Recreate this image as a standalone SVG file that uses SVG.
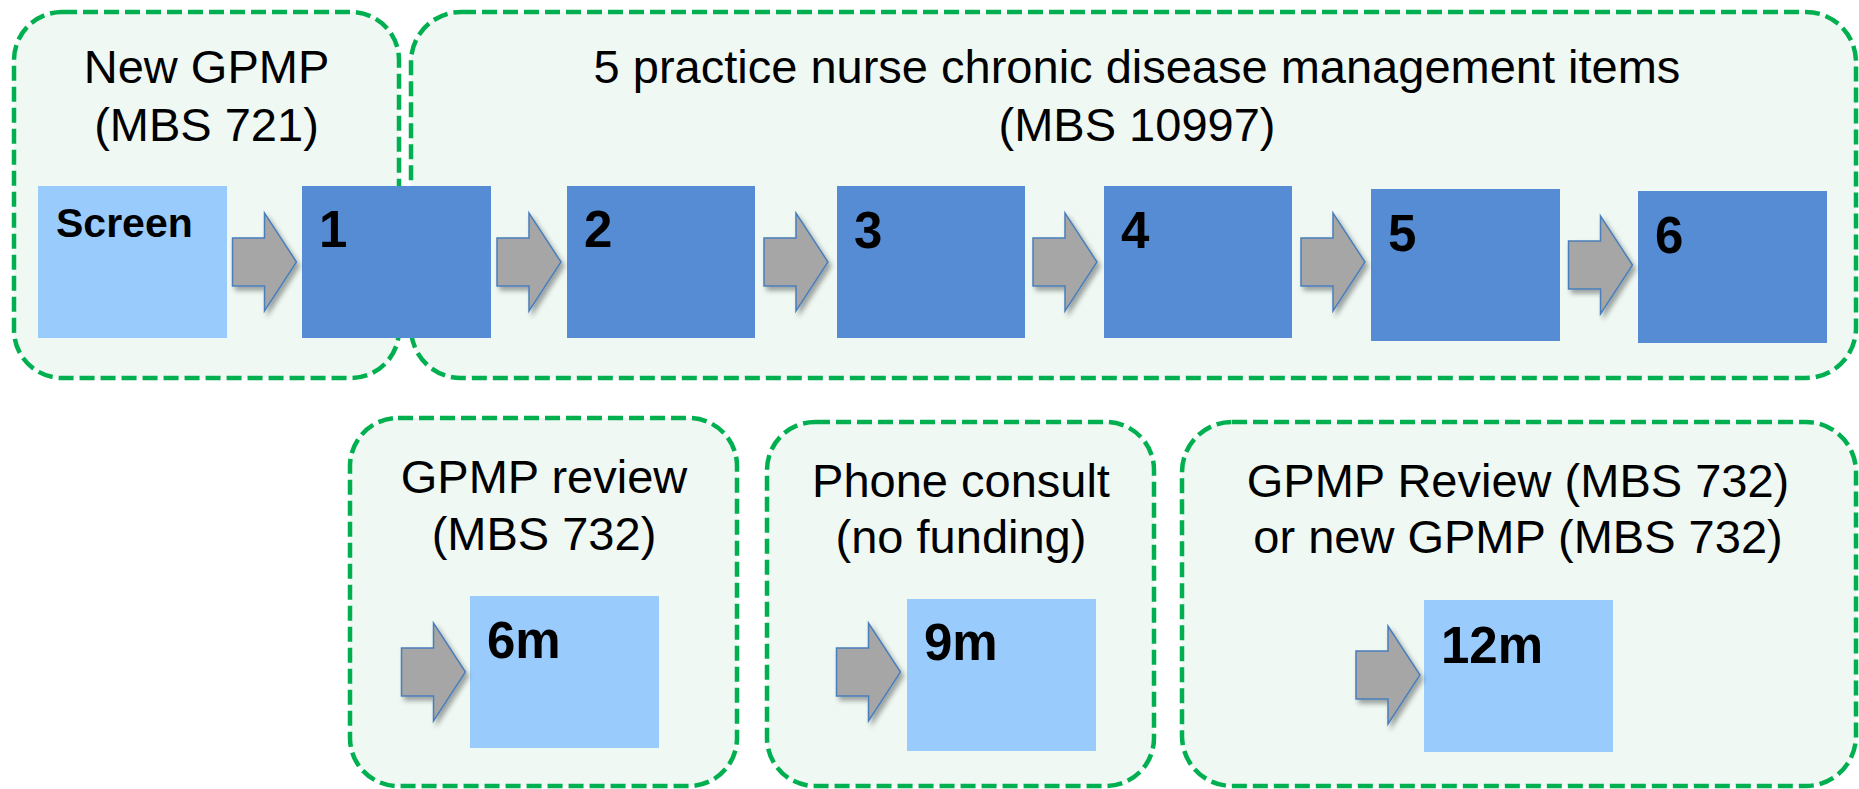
<svg xmlns="http://www.w3.org/2000/svg" width="1859" height="789" viewBox="0 0 1859 789">
<style>
.grp{fill:#EFF8F3;stroke:#00B050;stroke-width:4.5;stroke-dasharray:15 6}
.title{font-family:"Liberation Sans",Arial,sans-serif;font-size:47px;fill:#000;text-anchor:middle}
.num{font-family:"Liberation Sans",Arial,sans-serif;font-size:51px;font-weight:bold;fill:#000}
.dark{fill:#558CD4}
.light{fill:#99CBFC}
.arr{fill:#A6A6A6;stroke:#4A7EBB;stroke-width:1.5;filter:url(#sh)}
</style>
<defs>
<filter id="sh" x="-30%" y="-30%" width="160%" height="160%">
<feDropShadow dx="3" dy="4" stdDeviation="2.5" flood-color="#000" flood-opacity="0.35"/>
</filter>
<path id="ar" d="M0,-24 H32 V-49 L64,0 L32,49 V24 H0 Z"/>
</defs>
<rect width="1859" height="789" fill="#fff"/>

<g id="grp-new-gpmp">
<rect class="grp" x="14" y="12" width="385" height="366" rx="48"/>
<text class="title" x="206.5" y="83">New GPMP</text>
<text class="title" x="206.5" y="141">(MBS 721)</text>
</g>
<g id="grp-nurse">
<rect class="grp" x="411" y="12" width="1445" height="366" rx="50"/>
<text class="title" x="1137" y="83">5 practice nurse chronic disease management items</text>
<text class="title" x="1137" y="141">(MBS 10997)</text>
</g>
<g id="grp-review">
<rect class="grp" x="350" y="418" width="387" height="368" rx="48"/>
<text class="title" x="544" y="493">GPMP review</text>
<text class="title" x="544" y="550">(MBS 732)</text>
</g>
<g id="grp-phone">
<rect class="grp" x="767" y="422" width="387" height="364" rx="48"/>
<text class="title" x="961" y="497">Phone consult</text>
<text class="title" x="961" y="553">(no funding)</text>
</g>
<g id="grp-12m">
<rect class="grp" x="1182" y="422" width="674" height="364" rx="50"/>
<text class="title" x="1518" y="497">GPMP Review (MBS 732)</text>
<text class="title" x="1518" y="553">or new GPMP (MBS 732)</text>
</g>

<g id="node-screen">
<rect class="light" x="38" y="186" width="189" height="152"/>
<text class="num" x="56" y="237" style="font-size:41px">Screen</text>
</g>
<g id="node-1">
<rect class="dark" x="302" y="186" width="189" height="152"/>
<text class="num" x="319" y="247">1</text>
</g>
<g id="node-2">
<rect class="dark" x="567" y="186" width="188" height="152"/>
<text class="num" x="584" y="247">2</text>
</g>
<g id="node-3">
<rect class="dark" x="837" y="186" width="188" height="152"/>
<text class="num" x="854" y="248">3</text>
</g>
<g id="node-4">
<rect class="dark" x="1104" y="186" width="188" height="152"/>
<text class="num" x="1121" y="248">4</text>
</g>
<g id="node-5">
<rect class="dark" x="1371" y="189" width="189" height="152"/>
<text class="num" x="1388" y="251">5</text>
</g>
<g id="node-6">
<rect class="dark" x="1638" y="191" width="189" height="152"/>
<text class="num" x="1655" y="253">6</text>
</g>
<g id="node-6m">
<rect class="light" x="470" y="596" width="189" height="152"/>
<text class="num" x="487" y="658">6m</text>
</g>
<g id="node-9m">
<rect class="light" x="907" y="599" width="189" height="152"/>
<text class="num" x="924" y="660">9m</text>
</g>
<g id="node-12m">
<rect class="light" x="1424" y="600" width="189" height="152"/>
<text class="num" x="1441" y="663">12m</text>
</g>

<g id="connectors">
<use href="#ar" class="arr" transform="translate(232.5,262)"/>
<use href="#ar" class="arr" transform="translate(497,262)"/>
<use href="#ar" class="arr" transform="translate(764,262)"/>
<use href="#ar" class="arr" transform="translate(1033,262)"/>
<use href="#ar" class="arr" transform="translate(1301,262)"/>
<use href="#ar" class="arr" transform="translate(1568.5,265)"/>
<use href="#ar" class="arr" transform="translate(401.5,672)"/>
<use href="#ar" class="arr" transform="translate(836.5,672)"/>
<use href="#ar" class="arr" transform="translate(1356,675)"/>
</g>
</svg>
